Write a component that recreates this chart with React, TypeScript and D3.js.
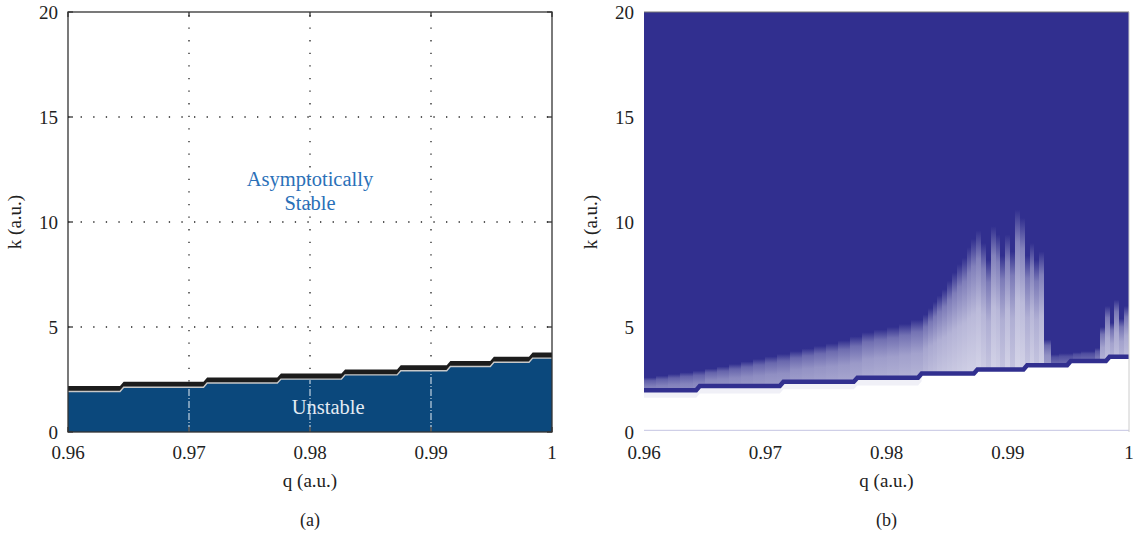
import React from 'react';
import * as d3 from 'd3';

// ---- data ----
const qTicks = [0.96, 0.97, 0.98, 0.99, 1];
const kTicks = [0, 5, 10, 15, 20];
const gridQ = [0.97, 0.98, 0.99];
const gridK = [5, 10, 15];
// stability boundary (staircase)
const stepEdges = [0.9643, 0.9712, 0.9773, 0.9826, 0.9872, 0.9913, 0.9949, 0.9981];
const stepLevels = [1.93, 2.13, 2.33, 2.52, 2.72, 2.92, 3.12, 3.32, 3.52];
const bandK = 0.26;
// right panel transition region (column start q, top k of light region, bottom lightness)
const heatStart = [
  0.96, 0.961, 0.962, 0.963, 0.964, 0.965, 0.966, 0.967, 0.968, 0.969, 0.97, 0.971, 0.972, 0.973,
  0.974, 0.975, 0.976, 0.977, 0.978, 0.979, 0.98, 0.981, 0.982, 0.983, 0.9834, 0.9838, 0.9842,
  0.9846, 0.985, 0.9854, 0.9858, 0.9862, 0.9866, 0.987, 0.9874, 0.9878, 0.9882, 0.9886, 0.989,
  0.9894, 0.9898, 0.9902, 0.9906, 0.991, 0.9914, 0.9918, 0.9922, 0.9926, 0.993, 0.9936, 0.9942,
  0.9948, 0.9954, 0.996, 0.9966, 0.9972, 0.9976, 0.998, 0.9984, 0.9988, 0.9992, 0.9996,
];
const heatTop = [
  2.6, 2.68, 2.76, 2.84, 2.92, 3.02, 3.12, 3.24, 3.36, 3.48, 3.6, 3.72, 3.85, 3.98,
  4.1, 4.22, 4.36, 4.55, 4.75, 4.88, 5.0, 5.15, 5.35, 5.6, 5.9, 6.2, 6.5,
  6.8, 7.2, 7.6, 8.0, 8.3, 8.8, 9.2, 9.6, 9.0, 8.2, 9.8, 9.4,
  8.4, 9.4, 8.6, 10.6, 10.2, 8.4, 9.0, 8.2, 8.6, 4.4, 3.7, 3.75,
  3.75, 3.8, 3.85, 3.85, 4.0, 5.0, 6.0, 5.2, 6.3, 5.4, 6.0,
];
const heatBase = [
  0.55, 0.54, 0.53, 0.52, 0.51, 0.5, 0.5, 0.49, 0.48, 0.47, 0.46, 0.46, 0.45, 0.44,
  0.43, 0.42, 0.41, 0.4, 0.39, 0.38, 0.37, 0.36, 0.35, 0.33, 0.31, 0.3, 0.28,
  0.27, 0.26, 0.25, 0.24, 0.23, 0.22, 0.22, 0.21, 0.24, 0.28, 0.21, 0.23,
  0.28, 0.21, 0.28, 0.2, 0.21, 0.28, 0.23, 0.28, 0.23, 0.45, 0.7, 0.7,
  0.7, 0.7, 0.7, 0.7, 0.6, 0.35, 0.3, 0.35, 0.3, 0.35, 0.3,
];

const FONT = 'Liberation Serif';
const BLUE_L = '#0b487c';
const BLUE_R = '#312f8f';
const RAMP = 0.0003;

export default function App() {
  const L = { x0: 68, x1: 552 };
  const R = { x0: 644, x1: 1129 };
  const xL = d3.scaleLinear().domain([0.96, 1]).range([L.x0, L.x1]);
  const xR = d3.scaleLinear().domain([0.96, 1]).range([R.x0, R.x1]);
  const y = d3.scaleLinear().domain([0, 20]).range([432, 12]);

  const levelAt = (q: number) => stepLevels[d3.bisectRight(stepEdges, q)];
  const pts: [number, number][] = [];
  let start = 0.96;
  stepLevels.forEach((lv, i) => {
    const end = i < stepEdges.length ? stepEdges[i] : 1;
    pts.push([i === 0 ? start : start + RAMP, lv]);
    pts.push([end, lv]);
    start = end;
  });

  const blueArea = d3.area<[number, number]>().x(d => xL(d[0])).y0(y(0)).y1(d => y(d[1]))(pts)!;
  const bandArea = d3.area<[number, number]>().x(d => xL(d[0])).y0(d => y(d[1])).y1(d => y(d[1] + bandK))(pts)!;
  const edgeLine = d3.line<[number, number]>().x(d => xL(d[0])).y(d => y(d[1]))(pts)!;

  const whiteR = d3.area<[number, number]>().x(d => xR(d[0])).y0(y(0)).y1(d => y(d[1]))(pts)!;
  const fringeR = d3.area<[number, number]>().x(d => xR(d[0])).y0(d => y(d[1] - 0.3)).y1(d => y(d[1]))(
    pts.filter(p => p[0] < 0.985)
  )!;
  const lineR = d3.line<[number, number]>().x(d => xR(d[0])).y(d => y(d[1] + 0.06))(pts)!;

  const tickLen = 5;
  const fmtQ = (q: number) => (q === 1 ? '1' : d3.format('.2f')(q));

  const axisTexts = (xs: d3.ScaleLinear<number, number>, x0: number, cx: number, cap: string) => (
    <g fontFamily={FONT} fill="#222">
      {kTicks.map(k => (
        <text key={'k' + k} x={x0 - 10} y={y(k)} dy="0.35em" textAnchor="end" fontSize={19}>{k}</text>
      ))}
      {qTicks.map(q => (
        <text key={'q' + q} x={xs(q)} y={459} textAnchor="middle" fontSize={19}>{fmtQ(q)}</text>
      ))}
      <text x={cx} y={487} textAnchor="middle" fontSize={19}>q (a.u.)</text>
      <text transform={`translate(${x0 - 47},${y(10)}) rotate(-90)`} textAnchor="middle" fontSize={19}>k (a.u.)</text>
      <text x={cx} y={526} textAnchor="middle" fontSize={18}>{cap}</text>
    </g>
  );

  const cols = heatStart.map((q, i) => {
    const qEnd = i + 1 < heatStart.length ? heatStart[i + 1] : 1;
    const x0 = Math.round(xR(q));
    const x1 = Math.round(xR(qEnd));
    const bottom = levelAt(q) - 0.1;
    return { i, x0, x1, yTop: y(heatTop[i]), yBot: y(bottom) };
  });

  return (
    <svg width={1135} height={538} style={{ position: 'absolute', left: 0, top: 0, background: '#fff' }}>
      <defs>
        {heatStart.map((_, i) => {
          const b = heatBase[i];
          return (
            <linearGradient key={i} id={'hg' + i} x1="0" y1="1" x2="0" y2="0">
              <stop offset="0" stopColor={BLUE_R} stopOpacity={b} />
              <stop offset="0.45" stopColor={BLUE_R} stopOpacity={b + (1 - b) * 0.15} />
              <stop offset="0.8" stopColor={BLUE_R} stopOpacity={b + (1 - b) * 0.5} />
              <stop offset="1" stopColor={BLUE_R} stopOpacity={1} />
            </linearGradient>
          );
        })}
        <clipPath id="clipR">
          <rect x={R.x0} y={y(20)} width={R.x1 - R.x0} height={y(0) - y(20)} />
        </clipPath>
      </defs>

      {/* ---------- left panel ---------- */}
      <g>
        {gridK.map(k => (
          <line key={'gk' + k} x1={L.x0} x2={L.x1} y1={y(k)} y2={y(k)} stroke="#222" strokeWidth={1.3} strokeDasharray="1.3 11.3" />
        ))}
        {gridQ.map(q => (
          <line key={'gq' + q} x1={xL(q)} x2={xL(q)} y1={y(0)} y2={y(20)} stroke="#222" strokeWidth={1.3} strokeDasharray="1.3 11.3" />
        ))}
        <path d={blueArea} fill={BLUE_L} />
        <path d={bandArea} fill="#1c1c1c" />
        <path d={edgeLine} fill="none" stroke="#c8c8c8" strokeWidth={1.4} />
        {gridQ.map(q => (
          <line key={'wq' + q} x1={xL(q)} x2={xL(q)} y1={y(0)} y2={y(levelAt(q)) + 1} stroke="#e8eef5" strokeWidth={1} strokeDasharray="7 2 1 2" />
        ))}
        <text x={xL(0.98)} y={186} textAnchor="middle" fontFamily={FONT} fontSize={20.5} fill="#2a70b8">Asymptotically</text>
        <text x={xL(0.98)} y={210} textAnchor="middle" fontFamily={FONT} fontSize={20.5} fill="#2a70b8">Stable</text>
        <text x={xL(0.9815)} y={414} textAnchor="middle" fontFamily={FONT} fontSize={20.5} fill="#e4ebf3">Unstable</text>
        {/* box + ticks */}
        <rect x={L.x0} y={y(20)} width={L.x1 - L.x0} height={y(0) - y(20)} fill="none" stroke="#333" strokeWidth={1.3} />
        {qTicks.map(q => (
          <g key={'tq' + q} stroke="#333" strokeWidth={1.3}>
            <line x1={xL(q)} x2={xL(q)} y1={y(0)} y2={y(0) - tickLen} />
            <line x1={xL(q)} x2={xL(q)} y1={y(20)} y2={y(20) + tickLen} />
          </g>
        ))}
        {kTicks.map(k => (
          <g key={'tk' + k} stroke="#333" strokeWidth={1.3}>
            <line x1={L.x0} x2={L.x0 + tickLen} y1={y(k)} y2={y(k)} />
            <line x1={L.x1} x2={L.x1 - tickLen} y1={y(k)} y2={y(k)} />
          </g>
        ))}
        {axisTexts(xL, L.x0, (L.x0 + L.x1) / 2, '(a)')}
      </g>

      {/* ---------- right panel ---------- */}
      <g clipPath="url(#clipR)">
        <rect x={R.x0} y={y(20)} width={R.x1 - R.x0} height={y(0) - y(20)} fill={BLUE_R} />
        <g shapeRendering="crispEdges">
          {cols.map(c => (
            <rect key={'h' + c.i} x={c.x0} width={c.x1 - c.x0} y={c.yTop} height={c.yBot - c.yTop} fill="#fff" />
          ))}
          {cols.map(c => (
            <rect key={'g' + c.i} x={c.x0} width={c.x1 - c.x0} y={c.yTop} height={c.yBot - c.yTop} fill={`url(#hg${c.i})`} />
          ))}
        </g>
        <path d={whiteR} fill="#fff" />
        <path d={fringeR} fill={BLUE_R} opacity={0.07} />
        <path d={lineR} fill="none" stroke={BLUE_R} strokeWidth={4.5} />
        <line x1={R.x0} x2={R.x1} y1={y(0.08)} y2={y(0.08)} stroke="#c4c4e2" strokeWidth={1} />
      </g>
      <line x1={R.x0} x2={R.x1} y1={y(20)} y2={y(20)} stroke="#777" strokeWidth={1.2} />
      <line x1={R.x1} x2={R.x1} y1={y(20)} y2={y(0)} stroke="#ccc" strokeWidth={1} />
      {axisTexts(xR, R.x0, (R.x0 + R.x1) / 2, '(b)')}
    </svg>
  );
}
